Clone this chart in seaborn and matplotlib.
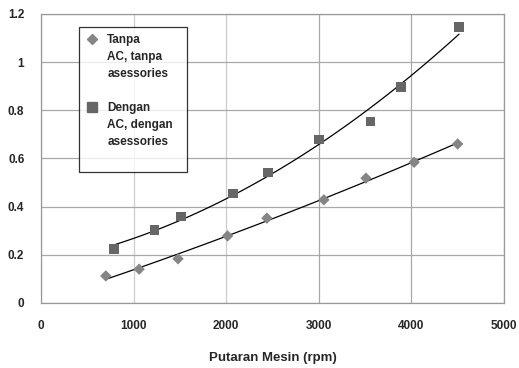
import matplotlib
matplotlib.use("Agg")
import matplotlib.pyplot as plt
import seaborn as sns
import pandas as pd
from matplotlib.lines import Line2D

# Engine speed (rpm) and measured values for both conditions
rpm_tanpa = [700, 1060, 1480, 2015, 2440, 3055, 3510, 4030, 4500]
val_tanpa = [0.112, 0.140, 0.183, 0.278, 0.352, 0.428, 0.518, 0.584, 0.660]

rpm_dengan = [790, 1225, 1510, 2075, 2450, 3000, 3560, 3885, 4515]
val_dengan = [0.223, 0.302, 0.358, 0.455, 0.541, 0.678, 0.754, 0.896, 1.145]

label_tanpa = ["Tanpa", "AC, tanpa", "asessories"]
label_dengan = ["Dengan", "AC, dengan", "asessories"]
x_label = "Putaran Mesin (rpm)"
x_ticks = [0, 1000, 2000, 3000, 4000, 5000]
y_ticks = [0, 0.2, 0.4, 0.6, 0.8, 1.0, 1.2]
y_tick_labels = ["0", "0.2", "0.4", "0.6", "0.8", "1", "1.2"]

df_tanpa = pd.DataFrame({"rpm": rpm_tanpa, "val": val_tanpa})
df_dengan = pd.DataFrame({"rpm": rpm_dengan, "val": val_dengan})

sns.set_style("white")
plt.rcParams["font.family"] = ["Liberation Sans", "DejaVu Sans"]

fig = plt.figure(figsize=(5.19, 3.68), dpi=100)
ax = fig.add_axes([0.079, 0.177, 0.892, 0.785])

c_tanpa = "#858585"
c_dengan = "#666666"

# Second-order trend lines over each series' range
sns.regplot(data=df_tanpa, x="rpm", y="val", order=2, ci=None, scatter=False,
            truncate=True, line_kws=dict(color="black", lw=0.9), ax=ax)
sns.regplot(data=df_dengan, x="rpm", y="val", order=2, ci=None, scatter=False,
            truncate=True, line_kws=dict(color="black", lw=0.9), ax=ax)

sns.scatterplot(data=df_tanpa, x="rpm", y="val", marker="D", s=34,
                color=c_tanpa, edgecolor="none", ax=ax, zorder=3)
sns.scatterplot(data=df_dengan, x="rpm", y="val", marker="s", s=48,
                color=c_dengan, edgecolor="none", ax=ax, zorder=3)

ax.set_xlim(0, 5000)
ax.set_ylim(0, 1.2)
ax.set_xticks(x_ticks)
ax.set_yticks(y_ticks)
ax.set_yticklabels(y_tick_labels)
ax.grid(True, color="#a8a8a8", lw=0.9)
for gl, xv in zip(ax.get_xgridlines(), x_ticks):
    if xv in (1000, 2000):
        gl.set_color("#cccccc")
ax.set_axisbelow(True)
for s in ax.spines.values():
    s.set_color("#999999")
    s.set_linewidth(0.9)

ax.tick_params(axis="both", length=0, labelsize=8.5)
ax.tick_params(axis="x", pad=12)
ax.tick_params(axis="y", pad=12)
for t in ax.get_xticklabels() + ax.get_yticklabels():
    t.set_fontweight("bold")

ax.set_xlabel(x_label, fontsize=9.5, fontweight="bold", labelpad=15)
ax.set_ylabel("")

# Legend: one marker per series, its label wrapped over three lines
blank = Line2D([], [], ls="none", marker="none")
handles = [Line2D([], [], marker="D", color=c_tanpa, ls="none", markersize=5),
           blank, blank, blank,
           Line2D([], [], marker="s", color=c_dengan, ls="none", markersize=6.5),
           blank, blank, blank]
labels = label_tanpa + [""] + label_dengan + [""]
leg = ax.legend(handles, labels, loc="upper left", mode="expand",
                bbox_to_anchor=(0.082, 0.453, 0.233, 0.502),
                borderaxespad=0.0, frameon=True, fancybox=False,
                borderpad=0.6, labelspacing=0.42, handlelength=1.0,
                handletextpad=0.8, prop=dict(size=8.5, weight="bold"))
leg.get_frame().set_edgecolor("black")
leg.get_frame().set_linewidth(0.9)

fig.savefig("out.png", dpi=100, facecolor="white")
